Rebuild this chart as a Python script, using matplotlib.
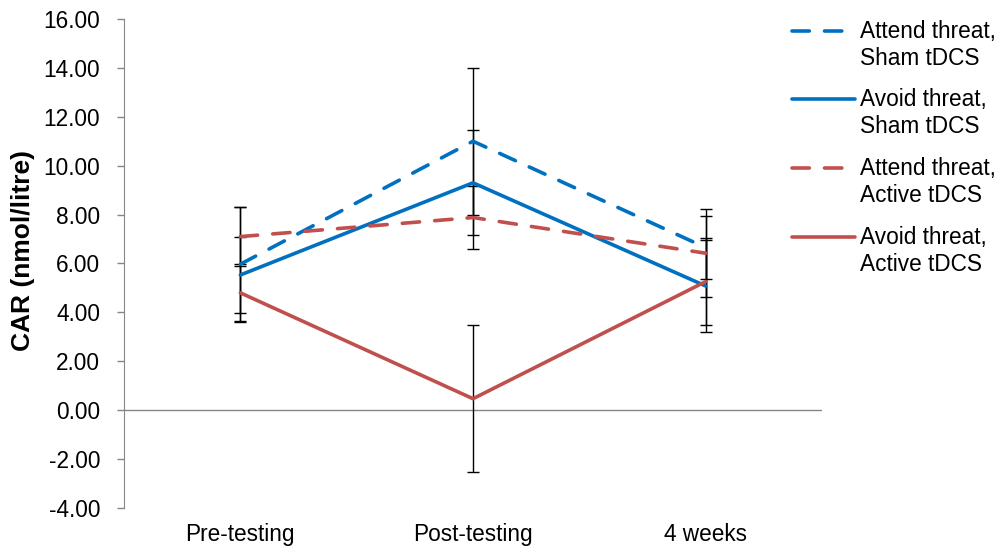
import matplotlib
matplotlib.use("Agg")
import matplotlib.pyplot as plt
from matplotlib.lines import Line2D

plt.rcParams['font.family'] = ['Liberation Sans', 'DejaVu Sans']

categories = ["Pre-testing", "Post-testing", "4 weeks"]
series_labels = ["Attend threat,\nSham tDCS", "Avoid threat,\nSham tDCS",
                 "Attend threat,\nActive tDCS", "Avoid threat,\nActive tDCS"]
attend_sham = [5.97, 11.00, 6.65]
attend_sham_err = [2.32, 3.00, 1.29]
avoid_sham = [5.53, 9.30, 5.08]
avoid_sham_err = [1.55, 2.15, 1.88]
attend_active = [7.10, 7.88, 6.42]
attend_active_err = [1.20, 1.28, 1.80]
avoid_active = [4.80, 0.47, 5.26]
avoid_active_err = [1.19, 3.00, 1.77]
yticks = [-4, -2, 0, 2, 4, 6, 8, 10, 12, 14, 16]

blue = "#0070C0"
red = "#C0504D"
series = [
    (attend_sham, attend_sham_err, blue, "dashed"),
    (avoid_sham, avoid_sham_err, blue, "solid"),
    (attend_active, attend_active_err, red, "dashed"),
    (avoid_active, avoid_active_err, red, "solid"),
]

FS = 16.3
fig = plt.figure(figsize=(10.08, 5.47), dpi=100)
ax = fig.add_axes([0.123, 0.0713, 0.6925, 0.8940])
x = list(range(len(categories)))

lw = 2.6
for vals, err, col, style in series:
    ax.errorbar(x, vals, yerr=err, fmt="none", ecolor="black", elinewidth=1.0,
                capsize=4.4, capthick=1.0, zorder=2)
for vals, err, col, style in series:
    if style == "dashed":
        ax.plot(x, vals, color=col, lw=lw, dashes=(4.8, 4.2), dash_capstyle="round",
                solid_joinstyle="round", zorder=3)
    else:
        ax.plot(x, vals, color=col, lw=lw, solid_capstyle="round",
                solid_joinstyle="round", zorder=3)

ax.set_xlim(-0.5, 2.5)
ax.set_ylim(-4, 16)
ax.set_yticks(yticks)
ax.set_yticklabels([f"{v:.2f}" for v in yticks], fontsize=FS)
ax.set_xticks(x)
ax.set_xticklabels(categories, fontsize=FS)
ax.tick_params(axis="x", length=0, pad=10.5)
ax.tick_params(axis="y", length=5, color="#868686", width=1, pad=12)
for s in ["top", "right", "bottom"]:
    ax.spines[s].set_visible(False)
ax.spines["left"].set_color("#868686")
ax.axhline(0, color="#868686", lw=1, zorder=1)
ax.set_ylabel("CAR (nmol/litre)", fontsize=19, fontweight="bold")
ax.yaxis.set_label_coords(-0.127, 0.526)

# legend (Excel style: handle aligned with first text line)
W, H = 1008.0, 547.0
first_line_y = [31, 99, 168, 237]
for (vals, err, col, style), lab, yy in zip(series, series_labels, first_line_y):
    fy = 1 - yy / H
    if style == "dashed":
        ln = Line2D([792 / W, 846 / W], [fy, fy], transform=fig.transFigure, color=col,
                    lw=lw, dashes=(4.8, 4.2), dash_capstyle="round")
    else:
        ln = Line2D([792 / W, 855 / W], [fy, fy], transform=fig.transFigure, color=col,
                    lw=lw, solid_capstyle="round")
    fig.add_artist(ln)
    fig.text(860 / W, 1 - (yy + 14) / H, lab, fontsize=FS, va="center", ha="left",
             linespacing=1.25)

fig.savefig("out.png", dpi=100)
